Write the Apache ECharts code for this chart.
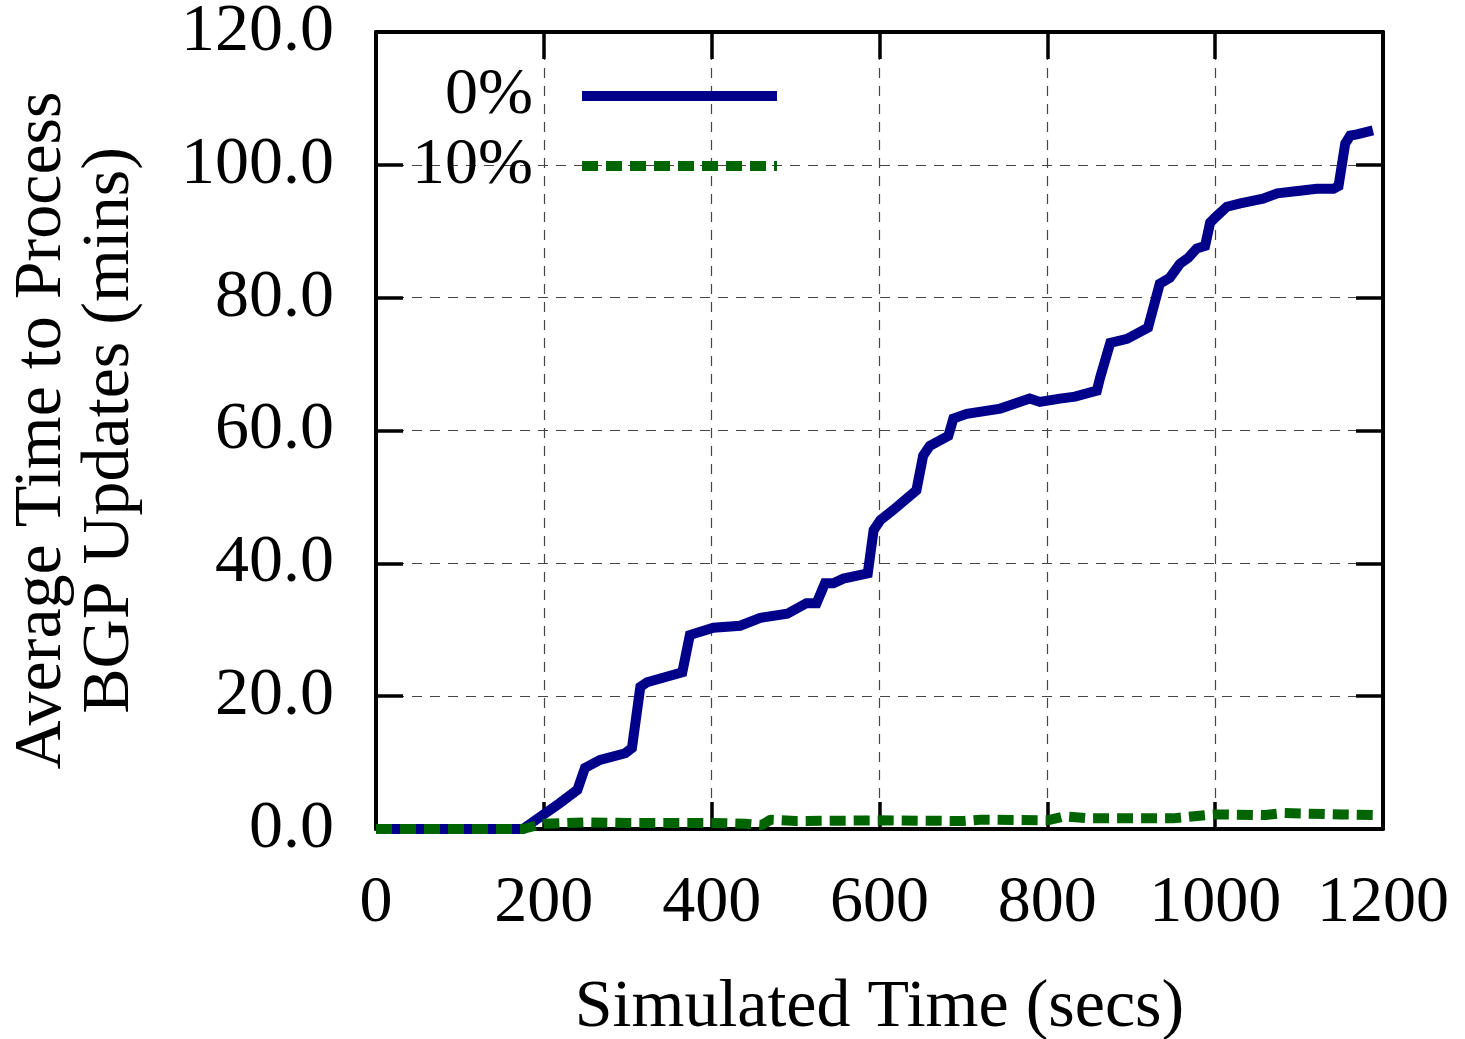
<!DOCTYPE html>
<html>
<head>
<meta charset="utf-8">
<script src="https://cdn.jsdelivr.net/npm/echarts@6/dist/echarts.min.js"></script>
<style>
  html, body { margin: 0; padding: 0; background: #fff; }
  #chart { width: 1465px; height: 1039px; }
</style>
</head>
<body>
<div id="chart"></div>
<script>
// simulated time (secs) / average processing time (mins)
var times0 = [0, 175, 219, 240, 249, 267, 297, 305, 315, 323, 365, 374, 402, 434, 458, 490, 513, 525, 535, 545,
              557, 586, 593, 601, 616, 644, 652, 660, 682, 688, 704, 744, 779, 791, 815, 833, 859, 863, 875, 895,
              920, 934, 946, 958, 968, 978, 988, 994, 1002, 1014, 1030, 1057, 1074, 1101, 1121, 1141, 1147, 1155,
              1161, 1169, 1188];
var values0 = [0, 0, 3.9, 5.9, 9.2, 10.4, 11.4, 12.2, 21.4, 22.1, 23.6, 29.2, 30.3, 30.6, 31.8, 32.4, 34.0, 34.0, 37.0, 37.0,
               37.7, 38.5, 45.0, 46.5, 48.0, 51.0, 56.2, 57.7, 59.2, 61.8, 62.5, 63.3, 64.8, 64.3, 64.8, 65.1, 66.0, 68.0, 73.2, 73.8,
               75.5, 82.1, 83.0, 85.1, 86.0, 87.4, 87.8, 91.3, 92.3, 93.7, 94.2, 94.9, 95.7, 96.1, 96.4, 96.4, 96.8, 103.2,
               104.4, 104.6, 105.2];

var times10 = [0, 175, 200, 250, 300, 400, 440, 460, 470, 500, 600, 700, 720, 800, 820, 850, 950, 990, 1000, 1060, 1080, 1150, 1190];
var values10 = [0, 0, 0.8, 1.0, 0.9, 0.9, 0.8, 0.6, 1.4, 1.2, 1.3, 1.2, 1.4, 1.3, 1.9, 1.6, 1.6, 2.1, 2.2, 2.1, 2.4, 2.2, 2.1];

var seriesNames = ['0%', '10%'];
var xTitle = 'Simulated Time (secs)';
var yTitle = 'Average Time to Process\nBGP Updates (mins)';

var font = "'Liberation Serif', 'Times New Roman', serif";

function pairs(xs, ys) {
    return xs.map(function (x, i) { return [x, ys[i]]; });
}

var gridLine = {show: true, lineStyle: {color: '#444', width: 1.2, type: [10, 8]}};
var frame = {show: true, onZero: false, lineStyle: {color: '#000', width: 4}};
var ticks = {show: true, inside: true, length: 27, lineStyle: {color: '#000', width: 3.5}};

function legendFor(name, top, dash) {
    return {
        data: [name],
        orient: 'vertical',
        right: 683,
        top: top,
        padding: 0,
        align: 'right',
        itemWidth: 195,
        itemHeight: 10,
        itemStyle: {opacity: 0},
        lineStyle: {width: 10, type: dash},
        textStyle: {fontFamily: font, fontSize: 66, color: '#000', padding: [0, 44, 0, 0]}
    };
}

var option = {
    animation: false,
    backgroundColor: '#fff',
    grid: {left: 376, right: 82, top: 32, bottom: 210, containLabel: false, outerBoundsMode: 'none'},
    legend: [
        legendFor(seriesNames[0], 63, 'solid'),
        legendFor(seriesNames[1], 133, [16, 8])
    ],
    xAxis: [
        {
            type: 'value', min: 0, max: 1200, interval: 200,
            name: xTitle, nameLocation: 'middle', nameGap: 145,
            nameTextStyle: {fontFamily: font, fontSize: 68, color: '#000'},
            axisLine: frame, axisTick: ticks, splitLine: gridLine,
            axisLabel: {
                fontFamily: font, fontSize: 66, color: '#000', margin: 42,
                formatter: function (v) { return String(v); }
            }
        },
        {
            type: 'value', min: 0, max: 1200, interval: 200, position: 'top',
            axisLine: frame, axisTick: ticks, splitLine: {show: false}, axisLabel: {show: false}
        }
    ],
    yAxis: [
        {
            type: 'value', min: 0, max: 120, interval: 20,
            name: yTitle, nameLocation: 'middle', nameGap: 232, nameRotate: 90,
            nameTextStyle: {fontFamily: font, fontSize: 68, color: '#000', lineHeight: 68},
            axisLine: frame, axisTick: ticks, splitLine: gridLine,
            axisLabel: {
                fontFamily: font, fontSize: 68, color: '#000', margin: 42,
                formatter: function (v) { return v.toFixed(1); }
            }
        },
        {
            type: 'value', min: 0, max: 120, interval: 20, position: 'right',
            axisLine: frame, axisTick: ticks, splitLine: {show: false}, axisLabel: {show: false}
        }
    ],
    series: [
        {
            name: seriesNames[0], type: 'line', data: pairs(times0, values0),
            symbol: 'none', color: '#00008b',
            lineStyle: {width: 10, color: '#00008b', join: 'miter'}
        },
        {
            name: seriesNames[1], type: 'line', data: pairs(times10, values10),
            symbol: 'none', color: '#006400',
            lineStyle: {width: 10, color: '#006400', type: [16, 8]}
        }
    ]
};

var myChart = echarts.init(document.getElementById('chart'));
myChart.setOption(option);
</script>
</body>
</html>
